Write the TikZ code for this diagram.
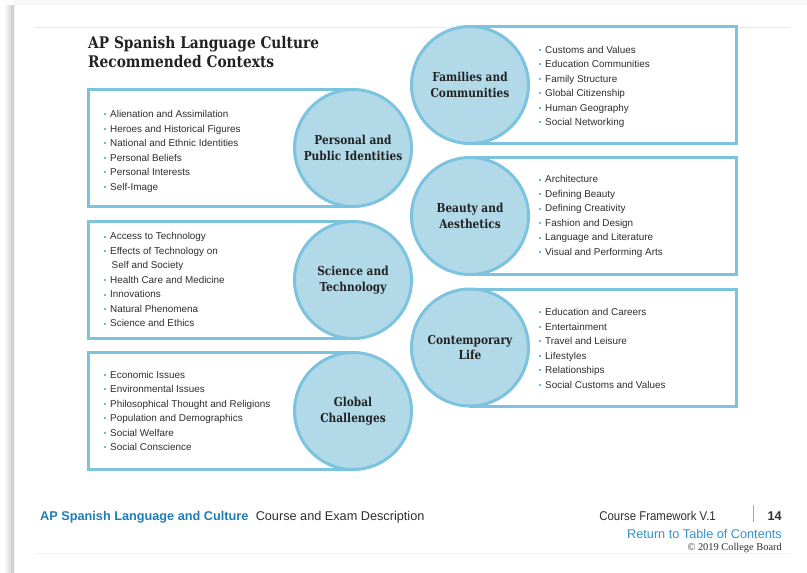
\documentclass[tikz,border=0pt]{standalone}
\usepackage{fontspec}
\usepackage{graphicx}
\setmainfont{Liberation Sans}
\newfontfamily\slab{DejaVu Serif}[FakeStretch=0.86]
\newfontfamily\serifcopy{Liberation Serif}
\definecolor{boxc}{HTML}{7CC3DF}
\definecolor{circf}{HTML}{B1D9E8}
\definecolor{txt}{HTML}{2E2E2E}
\definecolor{bulc}{HTML}{6BBBDB}
\definecolor{apblue}{HTML}{1F7DB8}
\definecolor{linkblue}{HTML}{3494CB}
\definecolor{titlec}{HTML}{222222}
\newcommand\bul{\textcolor{bulc}{\rule[2.4pt]{2pt}{2pt}}\hspace{4pt}}
\begin{document}
\begin{tikzpicture}[x=1pt,y=-1pt,
  boxline/.style={draw=boxc, line width=3pt, fill=white},
  topic/.style={circle, draw=boxc, line width=3pt, fill=circf, minimum size=117pt,
    inner sep=0pt, align=center, text=titlec,
    font=\slab\bfseries\fontsize{12.3}{15.5}\selectfont},
  item/.style={anchor=mid west, inner sep=0pt, text=txt, font=\fontsize{9.9}{11}\selectfont},
  titletext/.style={anchor=base west, inner sep=0pt, text=titlec,
    font=\slab\bfseries\fontsize{16}{19}\selectfont},
  foot/.style={inner sep=0pt, font=\fontsize{12.7}{14}\selectfont}
]
\useasboundingbox (0,0) rectangle (807,573);
% page background and shadows
\fill[white] (0,0) rectangle (807,573);
\fill[gray!6] (14,0) rectangle (807,5);
\shade[left color=white, right color=gray!45] (4,5) rectangle (14,573);
\draw[gray!18, line width=0.8pt] (35,27) -- (790,27);
\draw[gray!12, line width=0.6pt] (35,553) -- (790,553);

% title
\node[titletext] (t1) at (88,48.3) {AP Spanish Language Culture};
\node[titletext] (t2) at (88,67.7) {Recommended Contexts};

% left boxes
\draw[boxline] (88,89) rectangle (353,206);
\draw[boxline] (88,221.5) rectangle (353,338.5);
\draw[boxline] (88,352.5) rectangle (353,469.5);
% right boxes
\draw[boxline] (470,26.5) rectangle (736,143.5);
\draw[boxline] (470,157.5) rectangle (736,274.5);
\draw[boxline] (470,289) rectangle (736,406);

% circles
\node[topic] (ppi) at (353,148) {Personal and\\Public Identities};
\node[topic] (st) at (353,280) {Science and\\Technology};
\node[topic] (gc) at (353,411) {Global\\Challenges};
\node[topic] (fc) at (470,85) {Families and\\Communities};
\node[topic] (ba) at (470,216) {Beauty and\\Aesthetics};
\node[topic] (cl) at (470,347.5) {Contemporary\\Life};

% lists
\foreach \t [count=\i] in {Alienation and Assimilation, Heroes and Historical Figures,
  National and Ethnic Identities, Personal Beliefs, Personal Interests, Self-Image}
  \node[item] (ppi\i) at (104,115+14.5*\i-14.5) {\bul\t};

\node[item] (st1) at (104,237.3) {\bul Access to Technology};
\node[item] (st2) at (104,251.8) {\bul Effects of Technology on};
\node[item] (st2b) at (111.5,266.3) {Self and Society};
\foreach \t [count=\i from 3] in {Health Care and Medicine, Innovations,
  Natural Phenomena, Science and Ethics}
  \node[item] (st\i) at (104,280.8+14.5*\i-43.5) {\bul\t};

\foreach \t [count=\i] in {Economic Issues, Environmental Issues,
  Philosophical Thought and Religions, Population and Demographics,
  Social Welfare, Social Conscience}
  \node[item] (gc\i) at (104,375.6+14.5*\i-14.5) {\bul\t};

\foreach \t [count=\i] in {Customs and Values, Education Communities, Family Structure,
  Global Citizenship, Human Geography, Social Networking}
  \node[item] (fc\i) at (539,50.6+14.5*\i-14.5) {\bul\t};

\foreach \t [count=\i] in {Architecture, Defining Beauty, Defining Creativity,
  Fashion and Design, Language and Literature, Visual and Performing Arts}
  \node[item] (ba\i) at (539,180.3+14.5*\i-14.5) {\bul\t};

\foreach \t [count=\i] in {Education and Careers, Entertainment, Travel and Leisure,
  Lifestyles, Relationships, Social Customs and Values}
  \node[item] (cl\i) at (539,313+14.5*\i-14.5) {\bul\t};

% footer
\node[foot, anchor=base west, text=apblue, font=\bfseries\fontsize{12.7}{14}\selectfont] (f1) at (40,520) {AP Spanish Language and Culture};
\node[foot, anchor=base west, text=txt] (f2) at ([xshift=7pt]f1.base east) {Course and Exam Description};
\node[foot, anchor=base east, text=txt, font=\bfseries\fontsize{12.7}{14}\selectfont] (f4) at (782,520) {14};
\coordinate (pipetop) at (753,505);
\coordinate (pipebot) at (753,522);
\draw[gray!70, line width=0.6pt] (pipetop) -- (pipebot);
\node[foot, anchor=base east, text=txt] (f3) at (716,520) {\scalebox{0.9}[1]{Course Framework\ V.1}};
\node[foot, anchor=base east, text=linkblue] (f5) at (782,538) {Return to Table of Contents};
\node[anchor=base east, inner sep=0pt, text=txt, font=\serifcopy\fontsize{10.4}{12}\selectfont] (f6) at (782,550) {\textcopyright\ 2019 College Board};
\end{tikzpicture}
\end{document}
